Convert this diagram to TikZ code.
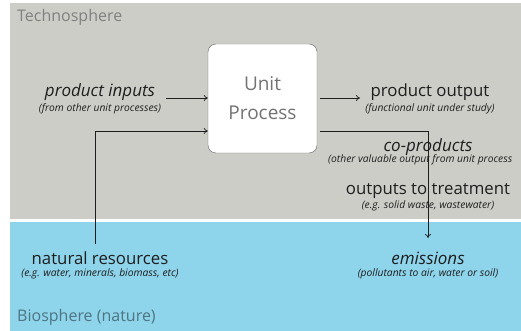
\documentclass[tikz,border=0pt]{standalone}
\usepackage{fontspec}
\setmainfont{Open Sans}
\usetikzlibrary{arrows.meta,positioning}
\definecolor{techgray}{RGB}{205,205,200}
\definecolor{bioblue}{RGB}{142,212,235}
\definecolor{inktext}{RGB}{30,30,30}
\begin{document}
\begin{tikzpicture}[x=1pt, y=-1pt,
  flow/.style = {draw=inktext, line width=0.7pt, -{To[length=4pt,width=6pt]}},
  head/.style = {text=inktext, font=\fontsize{16.8}{18}\selectfont, inner sep=0pt},
  ihead/.style = {head, font=\fontsize{17}{18}\selectfont\itshape},
  sub/.style = {text=inktext, font=\fontsize{10.3}{11}\selectfont\itshape, inner sep=0pt},
  sphere/.style = {anchor=west, inner sep=0pt, font=\fontsize{16}{17}\selectfont}]
  \useasboundingbox (0,0) rectangle (521,331);
  % background spheres
  \fill[white] (0,0) rectangle (521,331);
  \fill[techgray] (10,3) rectangle (521,219);
  \fill[bioblue] (10,222) rectangle (521,331);
  \node[sphere, text=black!50] (tech) at (17,17) {Technosphere};
  \node[sphere, text=black!45!bioblue] (bio) at (17,317) {Biosphere (nature)};
  % the process
  \node[draw=black!60, fill=white, rounded corners=8pt, minimum width=109pt,
    minimum height=109pt, align=center, text=black!55,
    font=\fontsize{19}{29}\selectfont] (unit) at (262.5,98.5) {Unit\\Process};
  % labels
  \node[ihead] (inp) at (100,92) {product inputs};
  \node[sub] (inpsub) at (100,109) {(from other unit processes)};
  \node[head] (outp) at (430,92) {product output};
  \node[sub] (outpsub) at (430,109) {(functional unit under study)};
  \node[ihead] (cop) at (428,147) {co-products};
  \node[sub, anchor=west] (copsub) at (328,160) {(other valuable output from unit process};
  \node[head] (treat) at (428,191) {outputs to treatment};
  \node[sub] (treatsub) at (428,206) {(e.g. solid waste, wastewater)};
  \node[ihead] (emis) at (428,258) {emissions};
  \node[sub] (emissub) at (428,274) {(pollutants to air, water or soil)};
  \node[head] (nat) at (100,258) {natural resources};
  \node[sub] (natsub) at (100,274) {(e.g. water, minerals, biomass, etc)};
  % connectors
  \coordinate (natend) at (95,244);
  \coordinate (copend) at (428,238);
  \draw[flow] (166,98) -- (unit.west |- 0,98);
  \draw[flow] (natend) |- (unit.west |- 0,131);
  \draw[flow] ([xshift=3pt]unit.east |- 0,98) -- (360,98);
  \draw[flow] ([xshift=3pt]unit.east |- 0,131) -| (copend);
\end{tikzpicture}
\end{document}
